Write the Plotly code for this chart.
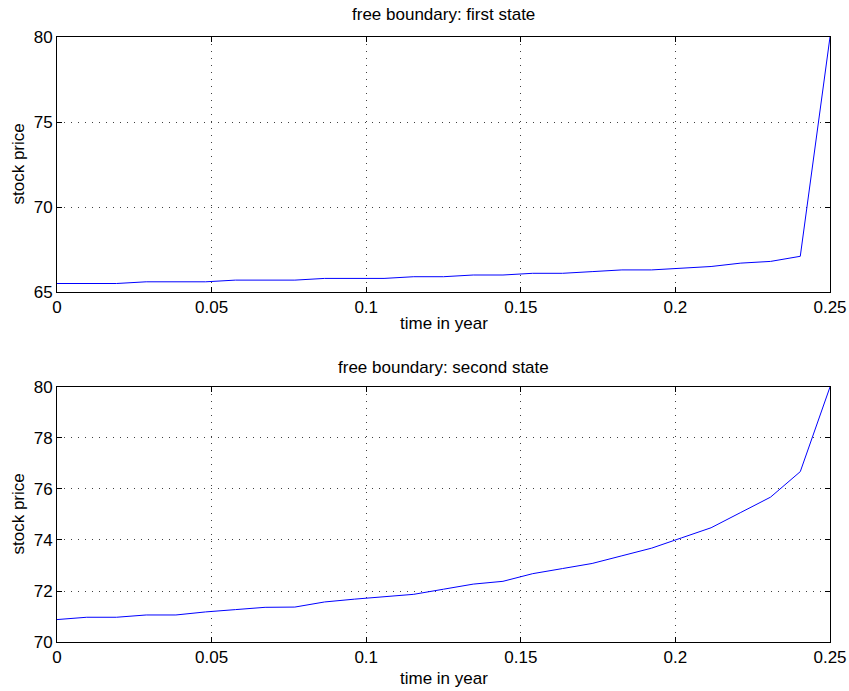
import plotly.graph_objects as go
from plotly.subplots import make_subplots

# time grid (27 steps over a quarter year)
time_years = [0.0, 0.009615, 0.019231, 0.028846, 0.038462, 0.048077, 0.057692,
              0.067308, 0.076923, 0.086538, 0.096154, 0.105769, 0.115385,
              0.125, 0.134615, 0.144231, 0.153846, 0.163462, 0.173077,
              0.182692, 0.192308, 0.201923, 0.211538, 0.221154, 0.230769,
              0.240385, 0.25]

first_state = [65.5, 65.5, 65.5, 65.6, 65.6, 65.6, 65.7, 65.7, 65.7, 65.8,
               65.8, 65.8, 65.9, 65.9, 66.0, 66.0, 66.1, 66.1, 66.2, 66.3,
               66.3, 66.4, 66.5, 66.7, 66.8, 67.1, 80.0]

second_state = [70.88, 70.97, 70.97, 71.06, 71.06, 71.18, 71.27, 71.36, 71.37,
                71.57, 71.68, 71.77, 71.87, 72.07, 72.27, 72.38, 72.68, 72.88,
                73.08, 73.38, 73.68, 74.08, 74.48, 75.08, 75.68, 76.68, 80.0]

x_ticks = [0, 0.05, 0.1, 0.15, 0.2, 0.25]
x_tick_labels = ["0", "0.05", "0.1", "0.15", "0.2", "0.25"]
y1_ticks = [65, 70, 75, 80]
y2_ticks = [70, 72, 74, 76, 78, 80]

titles = ["free boundary: first state", "free boundary: second state"]
x_title = "time in year"
y_title = "stock price"

FONT = "Liberation Sans Narrow, Arial Narrow, Liberation Sans, sans-serif"
TICKFONT = "Liberation Sans, Arial, Helvetica, sans-serif"

fig = make_subplots(rows=2, cols=1)
fig.add_trace(go.Scatter(x=time_years, y=first_state, mode="lines",
                         line=dict(color="#0000ff", width=1), showlegend=False),
              row=1, col=1)
fig.add_trace(go.Scatter(x=time_years, y=second_state, mode="lines",
                         line=dict(color="#0000ff", width=1), showlegend=False),
              row=2, col=1)

axis_common = dict(
    showline=True, linecolor="black", linewidth=1, mirror="ticks",
    ticks="inside", ticklen=5, tickcolor="black", tickwidth=1,
    showgrid=True, gridcolor="rgba(0,0,0,0.75)", gridwidth=1, griddash="1px,6px",
    zeroline=False, automargin=False,
    tickfont=dict(family=FONT, size=17, color="black"),
)

fig.update_xaxes(range=[0, 0.25], tickvals=x_ticks, ticktext=x_tick_labels,
                 **axis_common)
fig.update_yaxes(**axis_common)
fig.update_yaxes(range=[65, 80], tickvals=y1_ticks, row=1, col=1)
fig.update_yaxes(range=[70, 80], tickvals=y2_ticks, row=2, col=1)

fig.update_layout(
    xaxis=dict(domain=[0, 1]), xaxis2=dict(domain=[0, 1]),
    yaxis=dict(domain=[0.5785, 1.0]), yaxis2=dict(domain=[0.0, 0.4215]),
)

H_PLOT = 605.0
def py(px):
    return (642 - px) / H_PLOT

annots = []
for t, ypx in zip(titles, [14, 367]):
    annots.append(dict(text=t, x=0.5, y=py(ypx), xref="paper", yref="paper",
                       xanchor="center", yanchor="middle", showarrow=False,
                       font=dict(family=FONT, size=17, color="black")))
for ypx in [323, 678]:
    annots.append(dict(text=x_title, x=0.5, y=py(ypx), xref="paper", yref="paper",
                       xanchor="center", yanchor="middle", showarrow=False,
                       font=dict(family=FONT, size=17, color="black")))
for ypx in [164.5, 514.5]:
    annots.append(dict(text=y_title, x=(18 - 57) / 773.0, y=py(ypx),
                       xref="paper", yref="paper", textangle=-90,
                       xanchor="center", yanchor="middle", showarrow=False,
                       font=dict(family=FONT, size=17, color="black")))

fig.update_layout(
    width=849, height=691,
    margin=dict(l=57, r=19, t=37, b=49),
    paper_bgcolor="white", plot_bgcolor="white",
    annotations=annots,
    font=dict(family=FONT, color="black"),
)

fig.write_html("out.html")
